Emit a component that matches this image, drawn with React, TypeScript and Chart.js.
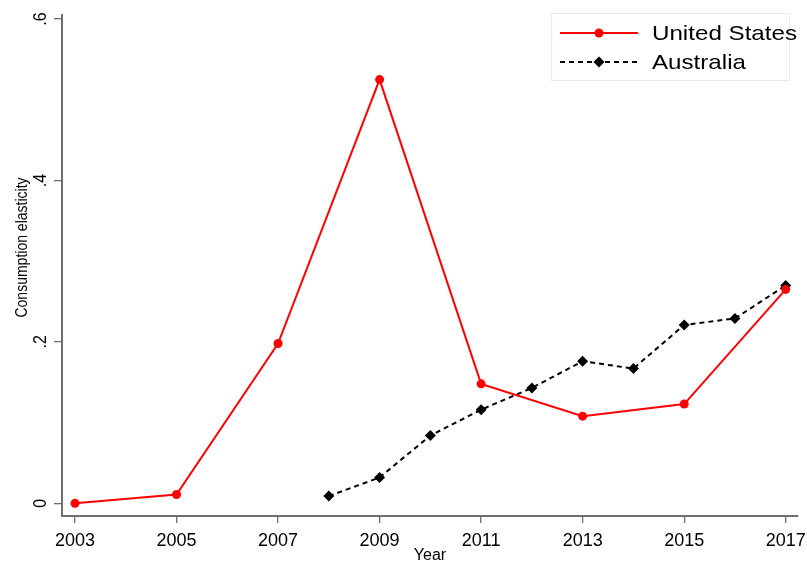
import React, { useEffect, useRef } from "react";
import { Chart, registerables } from "chart.js";

Chart.register(...registerables);

// Consumption elasticity by year
const usYears = [2003, 2005, 2007, 2009, 2011, 2013, 2015, 2017];
const usValues = [0.0, 0.011, 0.198, 0.525, 0.148, 0.108, 0.123, 0.265];

const auYears = [2008, 2009, 2010, 2011, 2012, 2013, 2014, 2015, 2016, 2017];
const auValues = [0.009, 0.032, 0.084, 0.116, 0.143, 0.176, 0.167, 0.221, 0.229, 0.270];

const xTickValues = [2003, 2005, 2007, 2009, 2011, 2013, 2015, 2017];
const yTickValues = [0, 0.2, 0.4, 0.6];
const yTickLabels = ["0", ".2", ".4", ".6"];

const seriesNames = ["United States", "Australia"];

const FONT = "'Liberation Sans', Arial, Helvetica, sans-serif";
const AXIS_GRAY = "#6e6e6e";
const US_RED = "#ff0000";
const AU_BLACK = "#000000";

// Rotated y tick labels, y title and the boxed legend
const stataDecor = {
  id: "stataDecor",
  afterDraw(chart: any) {
    const ctx = chart.ctx as CanvasRenderingContext2D;
    const yScale = chart.scales.y;
    const area = chart.chartArea;

    // y tick labels, reading bottom to top
    ctx.save();
    ctx.fillStyle = "#000";
    ctx.font = `16px ${FONT}`;
    ctx.textAlign = "center";
    ctx.textBaseline = "alphabetic";
    yTickValues.forEach((v, i) => {
      const py = yScale.getPixelForValue(v);
      ctx.save();
      ctx.translate(area.left - 16, py);
      ctx.rotate(-Math.PI / 2);
      ctx.scale(1, 1.15);
      ctx.fillText(yTickLabels[i], 0, 0);
      ctx.restore();
    });
    ctx.restore();

    // y axis title
    ctx.save();
    ctx.fillStyle = "#000";
    ctx.font = `14px ${FONT}`;
    ctx.textAlign = "center";
    ctx.textBaseline = "middle";
    ctx.translate(22, (area.top + area.bottom) / 2 - 18);
    ctx.rotate(-Math.PI / 2);
    ctx.scale(1, 1.2);
    ctx.fillText("Consumption elasticity", 0, 0);
    ctx.restore();

    // legend box
    const bx = 551.5;
    const by = 13.5;
    const bw = 238;
    const bh = 67;
    ctx.save();
    ctx.strokeStyle = "#e4ecec";
    ctx.lineWidth = 1;
    ctx.strokeRect(bx, by, bw, bh);

    const rows = [
      { y: 33, color: US_RED, dash: [] as number[], marker: "circle" },
      { y: 62, color: AU_BLACK, dash: [5, 4], marker: "diamond" },
    ];
    rows.forEach((r, i) => {
      ctx.save();
      ctx.strokeStyle = r.color;
      ctx.lineWidth = 2;
      ctx.setLineDash(r.dash);
      ctx.beginPath();
      ctx.moveTo(560, r.y);
      ctx.lineTo(638, r.y);
      ctx.stroke();
      ctx.setLineDash([]);
      ctx.fillStyle = r.color;
      ctx.beginPath();
      if (r.marker === "circle") {
        ctx.arc(599, r.y, 4.5, 0, Math.PI * 2);
      } else {
        ctx.moveTo(599, r.y - 5.5);
        ctx.lineTo(604.5, r.y);
        ctx.lineTo(599, r.y + 5.5);
        ctx.lineTo(593.5, r.y);
        ctx.closePath();
      }
      ctx.fill();
      ctx.restore();

      ctx.save();
      ctx.fillStyle = "#000";
      ctx.font = `21px ${FONT}`;
      ctx.textAlign = "left";
      ctx.textBaseline = "middle";
      ctx.translate(652, r.y + 1);
      ctx.scale(1.15, 1);
      ctx.fillText(seriesNames[i], 0, 0);
      ctx.restore();
    });
    ctx.restore();
  },
};

export default function App() {
  const canvasRef = useRef<HTMLCanvasElement | null>(null);

  useEffect(() => {
    const canvas = canvasRef.current;
    if (!canvas) return;

    const chart = new Chart(canvas, {
      type: "line",
      data: {
        datasets: [
          {
            label: seriesNames[0],
            data: usYears.map((x, i) => ({ x, y: usValues[i] })),
            borderColor: US_RED,
            backgroundColor: US_RED,
            borderWidth: 2,
            pointStyle: "circle",
            pointRadius: 4.5,
            pointBorderWidth: 0,
            pointBackgroundColor: US_RED,
            tension: 0,
            fill: false,
          },
          {
            label: seriesNames[1],
            data: auYears.map((x, i) => ({ x, y: auValues[i] })),
            borderColor: AU_BLACK,
            backgroundColor: AU_BLACK,
            borderWidth: 2,
            borderDash: [5, 4],
            pointStyle: "rectRot",
            pointRadius: 5.5,
            pointBorderWidth: 0,
            pointBackgroundColor: AU_BLACK,
            tension: 0,
            fill: false,
          },
        ],
      },
      options: {
        responsive: false,
        animation: false,
        devicePixelRatio: 1,
        layout: { padding: { top: 15, right: 9, left: 0, bottom: 0 } },
        plugins: {
          legend: { display: false },
          tooltip: { enabled: false },
        },
        scales: {
          x: {
            type: "linear",
            min: 2002.744,
            max: 2017.242,
            afterBuildTicks: (scale: any) => {
              scale.ticks = xTickValues.map((value) => ({ value }));
            },
            afterFit: (scale: any) => {
              scale.height = 52;
              scale.paddingLeft = 0;
              scale.paddingRight = 0;
            },
            ticks: {
              autoSkip: false,
              maxRotation: 0,
              minRotation: 0,
              padding: 7,
              color: "#000",
              font: { size: 18, family: FONT },
              callback: (v: any) => String(v),
            },
            grid: {
              display: true,
              drawOnChartArea: false,
              drawTicks: true,
              tickLength: 7,
              color: AXIS_GRAY,
              lineWidth: 1.3,
            },
            border: { display: true, color: AXIS_GRAY, width: 2 },
            title: {
              display: true,
              text: "Year",
              color: "#000",
              font: { size: 16, family: FONT },
              padding: { top: 0, bottom: 3 },
            },
          },
          y: {
            type: "linear",
            min: -0.0157,
            max: 0.605,
            afterBuildTicks: (scale: any) => {
              scale.ticks = yTickValues.map((value) => ({ value }));
            },
            afterFit: (scale: any) => {
              scale.width = 62;
              scale.paddingTop = 0;
              scale.paddingBottom = 0;
            },
            ticks: { display: false },
            grid: {
              display: true,
              drawOnChartArea: false,
              drawTicks: true,
              tickLength: 8,
              color: AXIS_GRAY,
              lineWidth: 1.3,
            },
            border: { display: true, color: AXIS_GRAY, width: 2 },
          },
        },
      },
      plugins: [stataDecor],
    });

    return () => chart.destroy();
  }, []);

  return (
    <div style={{ position: "absolute", left: 0, top: 0, width: 807, height: 568, background: "#fff" }}>
      <canvas ref={canvasRef} width={807} height={568} style={{ display: "block" }} />
    </div>
  );
}
